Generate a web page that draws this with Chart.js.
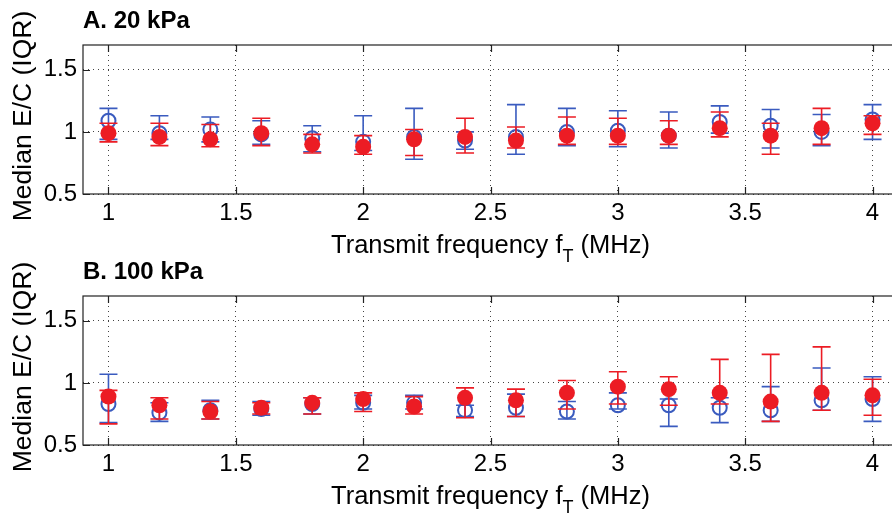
<!DOCTYPE html>
<html>
<head>
<meta charset="utf-8">
<script src="https://cdn.jsdelivr.net/npm/chart.js@4/dist/chart.umd.min.js"></script>
<style>
  html, body { margin: 0; padding: 0; background: #fff; overflow: hidden; }
  body { position: relative; width: 892px; height: 517px; }
  canvas { position: absolute; left: 0; }
  #panelA { top: 0; }
  #panelB { top: 251px; }
</style>
</head>
<body>
<canvas id="panelA" width="907" height="270"></canvas>
<canvas id="panelB" width="907" height="270"></canvas>
<script>
// transmit frequencies (MHz)
const freqs = [1.0, 1.2, 1.4, 1.6, 1.8, 2.0, 2.2, 2.4, 2.6, 2.8, 3.0, 3.2, 3.4, 3.6, 3.8, 4.0];

// axis ticks
const xTicks = [1, 1.5, 2, 2.5, 3, 3.5, 4];
const yTicks = [0.5, 1, 1.5];
const xTickLabels = ['1', '1.5', '2', '2.5', '3', '3.5', '4'];
const yTickLabels = ['0.5', '1', '1.5'];

// 20 kPa - open (blue) markers: median and IQR bounds
const open20Med = [1.09, 0.99, 1.02, 0.98, 0.95, 0.92, 0.96, 0.93, 0.96, 1.00, 1.01, 0.97, 1.08, 1.05, 1.00, 1.10];
const open20Lo  = [0.94, 0.94, 0.92, 0.90, 0.84, 0.85, 0.78, 0.86, 0.82, 0.89, 0.88, 0.87, 0.99, 0.87, 0.89, 0.94];
const open20Hi  = [1.19, 1.13, 1.12, 1.09, 1.05, 1.13, 1.19, 1.00, 1.22, 1.19, 1.17, 1.16, 1.21, 1.18, 1.14, 1.22];
// 20 kPa - filled (red) markers
const fill20Med = [0.99, 0.96, 0.94, 0.99, 0.90, 0.88, 0.94, 0.96, 0.93, 0.97, 0.97, 0.97, 1.03, 0.97, 1.03, 1.07];
const fill20Lo  = [0.92, 0.89, 0.88, 0.89, 0.83, 0.82, 0.81, 0.83, 0.87, 0.90, 0.90, 0.90, 0.96, 0.82, 0.90, 0.98];
const fill20Hi  = [1.07, 1.07, 1.06, 1.11, 0.98, 0.97, 1.02, 1.11, 1.04, 1.12, 1.11, 1.09, 1.16, 1.07, 1.19, 1.13];

// 100 kPa - open (blue) markers
const open100Med = [0.83, 0.76, 0.78, 0.79, 0.83, 0.84, 0.84, 0.78, 0.80, 0.77, 0.82, 0.82, 0.80, 0.78, 0.86, 0.87];
const open100Lo  = [0.68, 0.69, 0.71, 0.74, 0.75, 0.79, 0.79, 0.73, 0.73, 0.71, 0.79, 0.65, 0.68, 0.69, 0.78, 0.69];
const open100Hi  = [1.07, 0.84, 0.86, 0.85, 0.88, 0.90, 0.90, 0.82, 0.91, 0.85, 0.92, 0.87, 0.88, 0.97, 1.12, 1.05];
// 100 kPa - filled (red) markers
const fill100Med = [0.89, 0.82, 0.77, 0.80, 0.84, 0.87, 0.81, 0.88, 0.86, 0.92, 0.97, 0.95, 0.92, 0.85, 0.92, 0.90];
const fill100Lo  = [0.67, 0.71, 0.71, 0.75, 0.75, 0.77, 0.75, 0.72, 0.73, 0.79, 0.83, 0.82, 0.83, 0.69, 0.78, 0.74];
const fill100Hi  = [0.94, 0.88, 0.85, 0.84, 0.88, 0.92, 0.89, 0.96, 0.95, 1.02, 1.09, 1.05, 1.19, 1.23, 1.29, 1.03];

const BLUE = '#3a5bbf';
const RED = '#ec1c24';
const FONT = '"Liberation Sans", Arial, Helvetica, sans-serif';

// vertical IQR bars with caps, drawn just before each dataset's markers
const errorBars = {
  id: 'errorBars',
  beforeDatasetDraw(chart, args) {
    const ds = chart.data.datasets[args.index];
    if (!ds.errLo) return;
    const ctx = chart.ctx;
    const xs = chart.scales.x, ys = chart.scales.y;
    ctx.save();
    ctx.strokeStyle = ds.borderColor;
    ctx.lineWidth = 1.6;
    ds.data.forEach((pt, i) => {
      const x = xs.getPixelForValue(pt.x);
      const yl = ys.getPixelForValue(ds.errLo[i]);
      const yh = ys.getPixelForValue(ds.errHi[i]);
      ctx.beginPath();
      ctx.moveTo(x, yl); ctx.lineTo(x, yh);
      ctx.moveTo(x - 9, yl); ctx.lineTo(x + 9, yl);
      ctx.moveTo(x - 9, yh); ctx.lineTo(x + 9, yh);
      ctx.stroke();
    });
    ctx.restore();
  }
};

// box, inward ticks, panel title and axis titles
const panelDecor = {
  id: 'panelDecor',
  beforeDatasetsDraw(chart) {
    const ctx = chart.ctx;
    const a = chart.chartArea;
    const xs = chart.scales.x, ys = chart.scales.y;
    ctx.save();
    ctx.strokeStyle = '#222';
    ctx.lineWidth = 1.2;
    ctx.strokeRect(a.left, a.top, a.right - a.left, a.bottom - a.top);
    ctx.beginPath();
    xTicks.forEach(v => {
      const x = Math.round(xs.getPixelForValue(v)) + 0.5;
      ctx.moveTo(x, a.bottom); ctx.lineTo(x, a.bottom - 7);
      ctx.moveTo(x, a.top); ctx.lineTo(x, a.top + 7);
    });
    yTicks.forEach(v => {
      const y = Math.round(ys.getPixelForValue(v)) + 0.5;
      ctx.moveTo(a.left, y); ctx.lineTo(a.left + 7, y);
    });
    ctx.stroke();
    ctx.restore();
  },
  afterDraw(chart, args, opts) {
    const ctx = chart.ctx;
    const a = chart.chartArea;
    ctx.save();
    ctx.fillStyle = '#000';

    // panel title
    ctx.font = 'bold 24px ' + FONT;
    ctx.textAlign = 'left';
    ctx.textBaseline = 'alphabetic';
    ctx.fillText(opts.title, a.left, 28);

    // x axis title with subscript
    const main = 'Transmit frequency f';
    const tail = ' (MHz)';
    ctx.font = '25.5px ' + FONT;
    const wMain = ctx.measureText(main).width;
    const wTail = ctx.measureText(tail).width;
    ctx.font = '18px ' + FONT;
    const wSub = ctx.measureText('T').width;
    let x = (a.left + a.right) / 2 - (wMain + wSub + wTail) / 2;
    const base = 253;
    ctx.font = '25.5px ' + FONT;
    ctx.fillText(main, x, base);
    x += wMain;
    ctx.font = '18px ' + FONT;
    ctx.fillText('T', x, base + 9);
    x += wSub;
    ctx.font = '25.5px ' + FONT;
    ctx.fillText(tail, x, base);

    // y axis title
    ctx.translate(31, 116);
    ctx.rotate(-Math.PI / 2);
    ctx.textAlign = 'center';
    ctx.font = '26.5px ' + FONT;
    ctx.fillText('Median E/C (IQR)', 0, 0);
    ctx.restore();
  }
};

function makePanel(id, title, openMed, openLo, openHi, fillMed, fillLo, fillHi) {
  const toPts = arr => arr.map((v, i) => ({ x: freqs[i], y: v }));
  return new Chart(document.getElementById(id), {
    type: 'scatter',
    data: {
      datasets: [
        // first dataset is painted last, so red sits on top
        {
          label: 'filled',
          data: toPts(fillMed),
          errLo: fillLo, errHi: fillHi,
          pointStyle: 'circle',
          pointRadius: 8,
          pointBorderWidth: 0,
          backgroundColor: RED,
          borderColor: RED
        },
        {
          label: 'open',
          data: toPts(openMed),
          errLo: openLo, errHi: openHi,
          pointStyle: 'circle',
          pointRadius: 7,
          pointBorderWidth: 2,
          backgroundColor: 'rgba(0,0,0,0)',
          borderColor: BLUE
        }
      ]
    },
    options: {
      responsive: false,
      animation: false,
      devicePixelRatio: 1,
      layout: { padding: { top: 45, left: 0, right: 3, bottom: 0 } },
      plugins: {
        legend: { display: false },
        tooltip: { enabled: false },
        panelDecor: { title: title }
      },
      scales: {
        x: {
          type: 'linear',
          min: 0.9, max: 4.1,
          afterFit: s => { s.height = 76; s.paddingLeft = 0; s.paddingRight = 0; },
          afterBuildTicks: s => { s.ticks = xTicks.map(v => ({ value: v })); },
          ticks: {
            padding: 5,
            color: '#000',
            font: { family: FONT, size: 24 },
            maxRotation: 0,
            callback: (v, i) => xTickLabels[i]
          },
          grid: { color: '#444', lineWidth: 1, drawTicks: false },
          border: { display: false, dash: [1, 4] }
        },
        y: {
          type: 'linear',
          min: 0.5, max: 1.7,
          afterFit: s => { s.width = 83; s.paddingTop = 0; s.paddingBottom = 0; },
          afterBuildTicks: s => { s.ticks = yTicks.map(v => ({ value: v })); },
          ticks: {
            padding: 6,
            color: '#000',
            font: { family: FONT, size: 24 },
            callback: (v, i) => yTickLabels[i]
          },
          grid: { color: '#444', lineWidth: 1, drawTicks: false },
          border: { display: false, dash: [1, 4] }
        }
      }
    },
    plugins: [errorBars, panelDecor]
  });
}

makePanel('panelA', 'A. 20 kPa', open20Med, open20Lo, open20Hi, fill20Med, fill20Lo, fill20Hi);
makePanel('panelB', 'B. 100 kPa', open100Med, open100Lo, open100Hi, fill100Med, fill100Lo, fill100Hi);
</script>
</body>
</html>
